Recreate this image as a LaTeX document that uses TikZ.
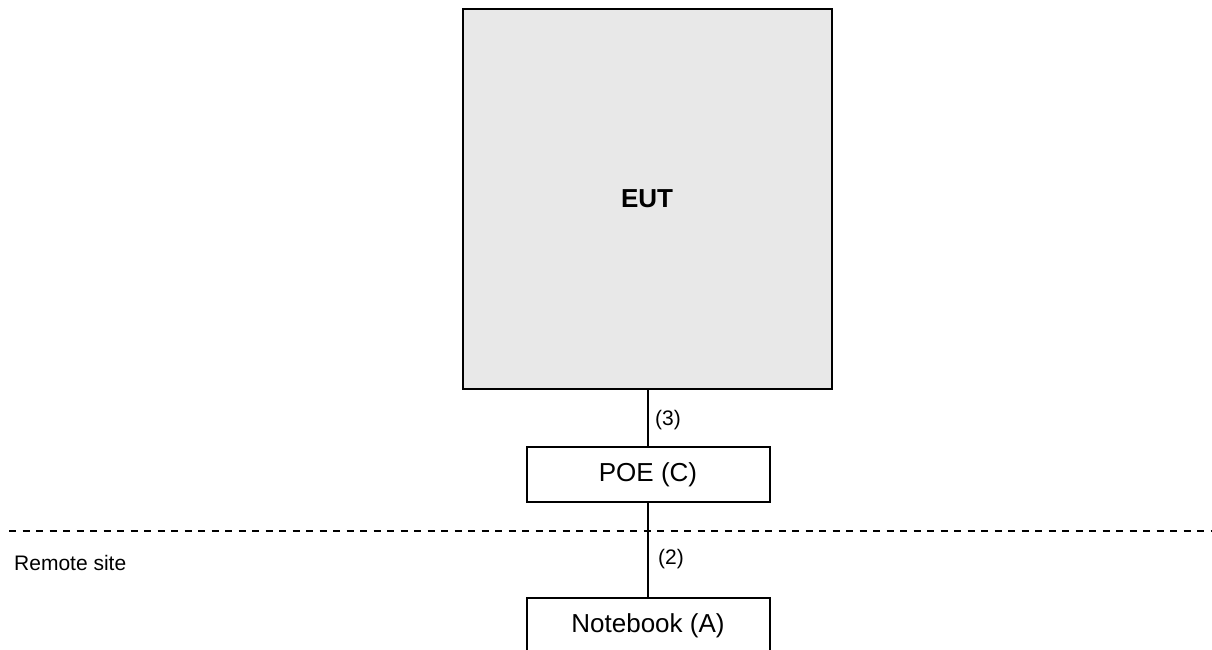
\documentclass[tikz,border=0pt]{standalone}
\usepackage{fontspec}
\setmainfont{Liberation Sans}
\definecolor{eutgray}{HTML}{E8E8E8}
\begin{document}
\begin{tikzpicture}[x=1pt,y=-1pt]
  \tikzstyle{every node}=[font=\fontsize{21}{24}\selectfont]
  \tikzstyle{unit}=[draw,line width=2pt,inner sep=0pt,minimum width=243pt,minimum height=55pt,font=\fontsize{26}{30}\selectfont]
 \useasboundingbox (0,0) rectangle (1212,649);
 \node[draw,fill=eutgray,line width=2pt,minimum width=369pt,minimum height=380pt,inner sep=0pt,font=\fontsize{26}{30}\selectfont\bfseries] (eut) at (647,199) {EUT};
 \node[unit] (poe) at (648,474.5) {POE (C)};
 \node[unit] (nb) at (648,625.5) {Notebook (A)};
 \node[anchor=west,inner sep=0pt] (l3) at (655,420) {(3)};
 \node[anchor=west,inner sep=0pt] (l2) at (658,559) {(2)};
 \node[anchor=west,inner sep=0pt] (site) at (14,563) {Remote site};
 \coordinate (sl) at (9,531);
 \coordinate (sr) at (1212,531);

 \draw [line width=1.8pt,dash pattern=on 7pt off 6.5pt] (sl) -- (sr);
 \draw [line width=1.5pt] (eut.south -| poe) -- (poe);
 \draw [line width=1.5pt] (poe) -- (nb);

\end{tikzpicture}
\end{document}
